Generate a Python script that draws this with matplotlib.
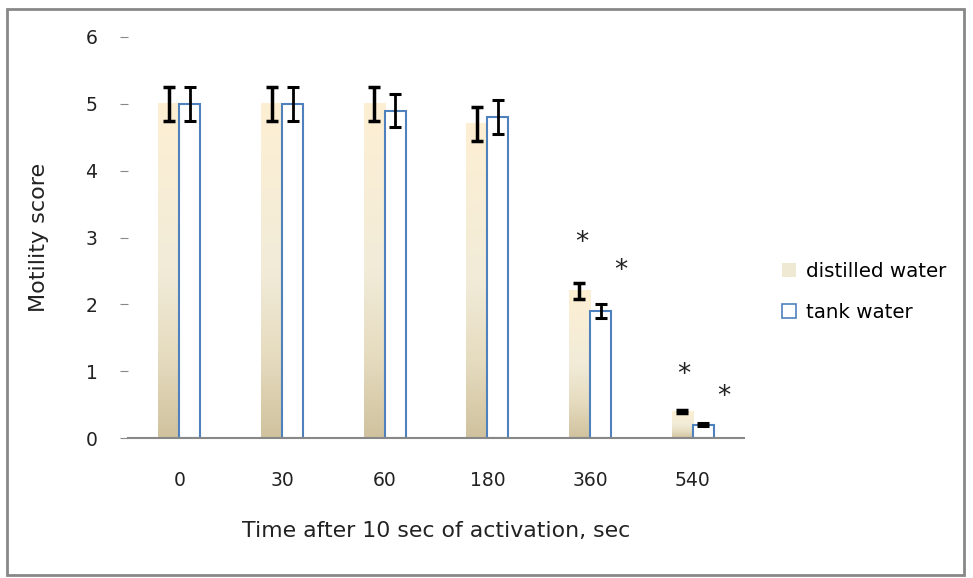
import numpy as np
import matplotlib
matplotlib.use("Agg")
import matplotlib.pyplot as plt
from matplotlib.patches import Patch, Rectangle
from matplotlib.colors import LinearSegmentedColormap

# ===== Data =====
times = ["0", "30", "60", "180", "360", "540"]
distilled = [5.0, 5.0, 5.0, 4.7, 2.2, 0.4]
distilled_err = [0.25, 0.25, 0.25, 0.25, 0.12, 0.02]
tank = [5.0, 5.0, 4.9, 4.8, 1.9, 0.2]
tank_err = [0.25, 0.25, 0.25, 0.25, 0.1, 0.02]
# asterisk heights (significance marks) for the last two time points
star_idx = [4, 5]
star_distilled = [2.92, 0.94]
star_tank = [2.5, 0.61]

plt.rcParams['font.family'] = ['DejaVu Sans']

fig = plt.figure(figsize=(9.73, 5.78), dpi=100)
ax = fig.add_axes([0.1316, 0.2422, 0.633, 0.6938])

x = np.arange(len(times))
w = 0.205

# cream-to-tan gradient for distilled water bars
grad_cmap = LinearSegmentedColormap.from_list(
    "sand", ["#d0c29e", "#e6dcc0", "#f1ebd8", "#f8eed6", "#fdefd3"])
grad = np.linspace(0, 1, 256).reshape(-1, 1)
for xi, h in zip(x, distilled):
    ax.imshow(grad, cmap=grad_cmap, origin="lower", aspect="auto",
              extent=[xi - w, xi, 0, h], zorder=1)

ax.bar(x + w / 2, tank, width=w, facecolor="white", edgecolor="#4f81bd",
       linewidth=1.5, zorder=2)

ax.errorbar(x - w / 2, distilled, yerr=distilled_err, fmt="none", ecolor="black",
            elinewidth=2.5, capsize=4.5, capthick=2.5, zorder=3)
ax.errorbar(x + w / 2, tank, yerr=tank_err, fmt="none", ecolor="black",
            elinewidth=2, capsize=4.5, capthick=2.2, zorder=3)

for i, sd, st in zip(star_idx, star_distilled, star_tank):
    ax.text(x[i] - w / 2 + 0.02, sd, "*", ha="center", va="center", fontsize=19, color="#222222")
    ax.text(x[i] + w / 2 + 0.2, st, "*", ha="center", va="center", fontsize=19, color="#222222")

ax.set_xlim(-0.5, len(times) - 0.5)
ax.set_ylim(0, 6)
ax.set_xticks(x)
ax.set_xticklabels(times)
ax.set_yticks(range(7))
ax.tick_params(axis="x", length=0, pad=24, labelsize=13.5, colors="#222222")
ax.tick_params(axis="y", length=6, pad=16, labelsize=13.5, colors="#888888", labelcolor="#222222")
for s in ["top", "right", "left"]:
    ax.spines[s].set_visible(False)
ax.spines["bottom"].set_color("#888888")
ax.spines["bottom"].set_linewidth(1.5)

ax.set_xlabel("Time after 10 sec of activation, sec", fontsize=15.8, labelpad=22, color="#222222")
ax.set_ylabel("Motility score", fontsize=16, labelpad=26, color="#222222")

handles = [Patch(facecolor="#efe8d3", edgecolor="none"),
           Patch(facecolor="white", edgecolor="#4f81bd", linewidth=1.2)]
fig.legend(handles, ["distilled water", "tank water"], loc="center left",
           bbox_to_anchor=(0.785, 0.495), frameon=False, fontsize=14.3,
           handlelength=0.7, handleheight=0.7, handletextpad=0.5, labelspacing=1.1)

# outer chart-area border
fig.patches.append(Rectangle((0.007, 0.005), 0.984, 0.98, transform=fig.transFigure,
                             fill=False, edgecolor="#888888", linewidth=2))

fig.savefig("out.png", dpi=100)
